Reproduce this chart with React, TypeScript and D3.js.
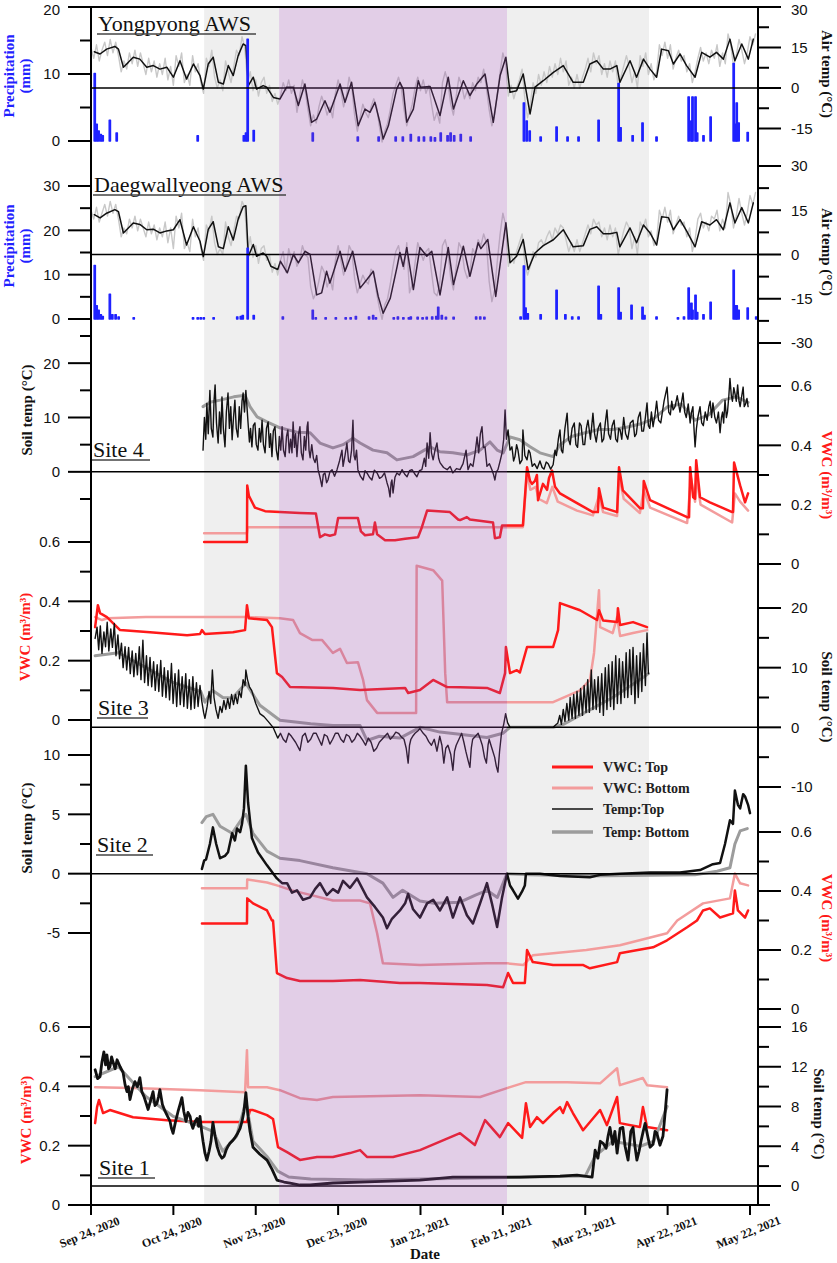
import * as d3 from "d3";

type Pt = [number, number];

// time is kept as days after Sep 24, 2020
const T0 = Date.UTC(2020, 8, 24);
const DAY = 864e5;
const tickDays = [0, 30, 60, 90, 120, 150, 180, 210, 240];
const greyPeriods: Pt[] = [[41.2, 68.5], [151.5, 203.2]];
const purplePeriod: Pt = [68.5, 151.5];

// ---- Yongpyong AWS ----
const yongDaily = [
  15, 11, 16, 10, 14, 17, 12, 18, 13, 17,
  12, 6, 10, 7, 13, 9, 14, 8, 13, 9,
  5, 11, 6, 10, 4, 9, 5, 11, 3, 8,
  1, 12, 8, 13, 2, 5, 1, 12, 6, 9,
  2, -2, 11, 8, 14, 4, 0, 3, -1, 10,
  6, 2, 8, 14, 12, 19, 15, 2, 6, -1,
  3, -3, 2, 4, -2, 1, -5, -2, -6, -3,
  2, -1, 3, -2, 1, -9, -3, 3, -1, -8,
  -14, -10, -13, -7, -3, -6, -10, -7, -11, -2,
  3, -1, -7, -3, 4, 0, -10, -16, -11, -6,
  -9, -11, -7, -4, -7, -14, -20, -16, -13, -8,
  -2, 1, 4, 0, -8, -14, -10, -6, 0, 4,
  -1, 3, -2, 1, -6, -12, -9, -13, 2, 6,
  2, -6, -10, -3, 4, 1, -4, -1, -4, 2,
  -1, 4, 2, 7, 0, -8, -14, -10, -2, 6,
  13, 9, -3, 1, -4, 0, 3, 7, -4, -11,
  -6, 2, -2, 5, 1, 6, 2, 8, 4, 9,
  5, 11, 6, 10, 1, 4, 0, 5, 0, 4,
  7, 11, 6, 13, 9, 12, 5, 9, 4, 10,
  6, 10, 0, 4, 8, 12, 8, 2, 6, 0,
  12, 8, 13, 5, 9, 3, 6, 16, 12, 17,
  11, 16, 7, 11, 14, 10, 12, 6, 9, 2,
  6, 11, 15, 10, 13, 9, 14, 11, 16, 8,
  13, 9, 20, 16, 8, 12, 18, 14, 9, 13,
  19, 16, 20,
];
const yongAvg: Pt[] = [
  [1.2, 13.4], [3.3, 12.6], [5.7, 14.4], [8.7, 15.4], [10, 14.4], [11.8, 7.7], [13.6, 9.5], [15.4, 11.4],
  [17.8, 10.7], [20.3, 7.7], [22.7, 8.3], [25.1, 7.0], [27.6, 7.7], [30, 4.0], [32.4, 10.1], [34.8, 3.3],
  [37.3, 8.9], [39.7, 4.6], [40.9, -0.4], [42.7, 8.9], [44.5, 11.4], [46.4, 2.1], [48.2, 1.5], [50, 8.3],
  [51.8, 4.6], [53.6, 12.0], [55.4, 16.3], [56.4, 15.7], [57.3, 0.9], [59.1, 4.0], [60.3, -0.4], [62.7, 0.9],
  [64, 0.3], [66.4, -3.5], [68.8, -4.1], [71.2, 0.3], [73.7, 0.3], [75.5, -6.5], [77.9, 1.5], [80.3, -12.7],
  [82.2, -11.5], [85.2, -4.7], [87, -9.0], [90.7, 1.5], [92.5, -5.3], [94.9, 2.1], [97.3, -14], [99.8, -7.8],
  [101.6, -9.0], [103.4, -5.3], [105.2, -12.7], [106.4, -18.9], [108.3, -14], [111.3, -0.4], [112.5, 2.1],
  [113.7, -0.4], [115, -12.7], [117.4, -7.8], [119.2, 2.7], [120, 0.3], [123.5, 0.6], [127.1, -10.2],
  [130.1, 4.0], [132, -7.8], [135.6, 2.7], [138, -2.8], [140.5, 1.5], [143.5, 5.2], [146.5, -12.7], [149, 4.6],
  [151.1, 11.4], [152.6, -1.6], [155, -1.0], [157.4, 5.2], [159.9, -9.6], [161.7, 0.3], [164.7, 2.7],
  [168.4, 5.8], [172, 8.3], [175.6, 2.1], [179.3, 2.1], [181.7, 8.9], [184.2, 10.1], [186.6, 7.0], [189, 7.0],
  [191.5, 8.3], [192.6, 2.1], [196.3, 10.1], [198.7, 4.0], [201.2, 10.7], [203.6, 7.0], [206, 4.0],
  [207.8, 14.4], [210.3, 13.8], [212.1, 8.9], [214.5, 12.6], [216.9, 8.3], [220, 4.0], [222.4, 13.2],
  [225.4, 11.4], [227.8, 13.2], [230.3, 10.7], [232.7, 18.1], [234.5, 10.1], [237, 16.3], [239.4, 10.7], [241.2, 18.1],
];
const yongPrecip: Pt[] = [
  [1.1, 10.1], [1.8, 2.5], [2.5, 1.5], [3.3, 1], [4, 0.8], [6.6, 3.1], [9.1, 1.2], [38.6, 0.8], [55.4, 0.8],
  [56.2, 1.2], [56.8, 15.2], [59, 1.6], [80.5, 1.2], [96.9, 0.6], [104.5, 0.6], [110.7, 0.6], [113.3, 0.6],
  [116.2, 1], [119.1, 0.6], [121, 0.6], [123.5, 0.6], [125, 0.5], [127.1, 1.2], [129.6, 0.8], [130.7, 1.2],
  [132, 0.8], [134.4, 1], [138, 0.6], [157.4, 5.7], [158.4, 3], [159.5, 1.5], [163.5, 0.6], [169.3, 2.1],
  [173.3, 0.6], [177.3, 0.6], [184.6, 3.1], [191.9, 8.6], [192.6, 2], [197, 0.8], [200.6, 2.7], [205.7, 0.6],
  [217.4, 6.6], [218.4, 3], [218.8, 6.6], [219.9, 6.6], [220.5, 1.2], [222.8, 0.8], [225.4, 3.6], [233.8, 11.6],
  [234.5, 2.5], [234.9, 5.7], [235.6, 2.7], [238.9, 1.3],
];

// ---- Daegwallyeong AWS ----
const daegDaily = [
  15, 12, 16, 11, 14, 17, 13, 18, 14, 17,
  12, 6, 9, 7, 12, 9, 13, 8, 12, 9,
  6, 11, 7, 10, 5, 9, 6, 11, 4, 9,
  2, 13, 9, 14, 2, 4, 1, 12, 6, 9,
  2, -2, 10, 8, 13, 4, 0, 2, 0, 11,
  6, 3, 8, 13, 12, 18, 16, 1, 6, -1,
  3, -3, 2, 3, -2, 0, -6, -3, -7, -2,
  1, -6, 2, -2, 1, -4, -2, 3, 0, -1,
  -11, -15, -13, -9, -4, -6, -11, -8, -12, -2,
  3, -2, -7, -4, 3, 1, -8, -13, -10, -7,
  -9, -10, -5, -6, -13, -18, -22, -17, -15, -10,
  -4, 1, 3, -2, -5, 4, -13, -10, -3, 4,
  1, -2, 1, 2, -6, -13, -14, -10, 3, 5,
  1, -8, -12, -4, 4, 2, -5, -8, -6, 2,
  0, 5, 3, 7, 4, -9, -16, -12, -2, 7,
  14, 10, -4, 0, -3, 1, 4, 7, -3, -7,
  -4, 1, -1, 4, 5, 3, 6, 8, 5, 9,
  7, 10, 9, 5, 1, 4, 1, 5, 1, 4,
  7, 10, 7, 12, 10, 11, 6, 9, 5, 10,
  6, 9, 0, 4, 8, 11, 9, 2, 6, 0,
  11, 9, 12, 6, 8, 3, 5, 15, 12, 16,
  11, 15, 7, 10, 13, 10, 11, 6, 9, 1,
  5, 12, 14, 9, 11, 8, 13, 12, 15, 8,
  12, 9, 21, 17, 9, 13, 19, 14, 10, 14,
  20, 17, 21,
];
const daegAvg: Pt[] = [
  [1.2, 13.5], [3.3, 12.4], [5.7, 14], [8.7, 15.2], [10, 14.5], [11.8, 7.3], [13.6, 9], [15.4, 10.7],
  [17.8, 10.2], [20.3, 8.4], [22.7, 8.6], [25.1, 7.3], [27.6, 8], [30, 8.4], [32.4, 11.8], [34.8, 3.2],
  [37.3, 9.4], [39.7, 4.5], [40.9, -0.7], [42.7, 8.5], [44.5, 11.1], [46.4, 2.6], [48.2, 2], [50, 9.4],
  [51.8, 4.9], [53.6, 12], [55.4, 16.2], [56.4, 16.5], [57.3, -0.6], [59.1, 3.4], [60.3, -0.6], [62.7, 0.5],
  [64, -0.6], [65.5, -4], [68, -5.1], [69, -2.3], [71.5, -6.2], [73.7, 0], [75.5, -2.8], [78, 1.1], [79.8, 0],
  [82.2, -13.7], [84, -13], [85.8, -5.7], [87, -9.7], [90.7, 1.1], [92.5, -5.7], [95.3, 1.1], [98, -11.4],
  [100.5, -8.5], [102.8, -5.7], [104.6, -14.2], [106.4, -19.9], [109, -14.8], [111.5, -4], [112.5, 0.7],
  [113.7, -4], [115, 2.4], [117.4, -11.9], [119.8, 2.4], [122.3, -0.6], [124.1, 1.1], [127.1, -13.7],
  [130.1, 2.4], [132, -10.2], [135.6, 2.8], [138, -7.4], [141, 4], [142, 2], [144.5, 5.1], [147.4, -14.2],
  [151.1, 10.8], [152.6, -2.8], [155, -0.6], [157.4, 5.1], [159.2, -5.1], [161.7, 0.5], [164.7, 3],
  [168.4, 5], [172, 8.4], [175.6, 2.6], [179.3, 3], [181.7, 8.5], [184.2, 9.4], [186.6, 7], [189, 7],
  [191.5, 7.5], [192.6, 2.6], [196.3, 9], [198.7, 4], [201.2, 10], [203.6, 7.3], [206, 3.2], [207.8, 12.8],
  [210.3, 12.5], [212.1, 8.4], [214.5, 11.8], [216.9, 8], [220, 2.6], [222.4, 11.1], [225.4, 10],
  [227.8, 11.8], [230.3, 8.4], [232.7, 17.5], [234.5, 10.7], [237, 15.9], [239.4, 10.7], [241.2, 17.5],
];
const daegPrecip: Pt[] = [
  [1.1, 12.1], [1.8, 3], [2.5, 2], [3.3, 1], [4, 0.6], [6.6, 5.6], [7.5, 1], [8.7, 1], [9.8, 0.5], [15.3, 0.3],
  [36.9, 0.3], [38.6, 0.3], [39.7, 0.3], [40.8, 0.3], [44.4, 0.3], [53, 0.5], [54.3, 0.6], [55, 0.8],
  [56.8, 16], [59, 0.8], [69.6, 0.5], [80.5, 2], [81.6, 0.3], [85.2, 0.3], [88.9, 0.3], [92.5, 0.3],
  [94.3, 0.3], [96.2, 0.6], [101, 0.5], [102.5, 0.8], [103.5, 0.3], [110, 0.3], [111.5, 0.5], [113.5, 0.3],
  [115.5, 0.3], [116.2, 0.5], [118.7, 0.4], [120.5, 0.3], [122, 0.4], [124, 0.5], [125.5, 0.6], [126.2, 2.7],
  [127.5, 0.8], [129, 0.4], [131.8, 0.4], [140, 0.5], [141.5, 0.5], [143, 0.4], [156.2, 0.5], [157.4, 12],
  [158, 2.5], [158.8, 1.2], [163.5, 1], [169.3, 6.5], [172.5, 1], [175, 0.5], [177.3, 0.5], [184.6, 7.4],
  [185.4, 1], [191.9, 7], [192.6, 1.5], [196.6, 3.1], [200.6, 2.7], [201.3, 0.8], [205.7, 0.5], [213.5, 0.3],
  [215.7, 0.5], [217.4, 7], [218.4, 3.6], [218.8, 2], [219.9, 5.4], [220.5, 1.5], [222.8, 1], [225.4, 3.8],
  [233.8, 11], [234.5, 3], [234.9, 3], [235.6, 2], [238.9, 2.5], [242, 0.5],
];

// ---- Site 4 ----
const s4TempTop: Pt[] = [
  [40.8, 4], [41.3, 10], [41.8, 6], [42.2, 12.6], [42.7, 7], [43.3, 15], [43.8, 8], [44.4, 6.4], [44.8, 13],
  [45.2, 16], [45.7, 9], [46.3, 5.3], [46.8, 11], [47.3, 7], [47.7, 13.8], [48.2, 8], [48.8, 4.6], [49.3, 11],
  [49.9, 14.5], [50.4, 8], [50.9, 12], [51.4, 5.9], [51.9, 10], [52.4, 13.2], [52.9, 8], [53.5, 6.4], [54, 12],
  [54.5, 8], [55, 13], [55.4, 14.5], [55.9, 11], [56.4, 15], [56.8, 12], [57.2, 9], [57.7, 5.5], [58.1, 8],
  [58.6, 4.6], [59.1, 8.5], [59.7, 9], [60.2, 5], [60.8, 4], [61.3, 8], [61.8, 5.5], [62.3, 9.5], [62.8, 5],
  [63.4, 3.5], [63.9, 8], [64.5, 9.2], [65, 4.5], [65.4, 7], [65.9, 2.8], [66.4, 7.5], [67, 8.3], [67.5, 4],
  [68.1, 2.2], [68.6, 6.5], [69.1, 4], [69.6, 8.3], [70.1, 4], [70.7, 2.8], [71.2, 6.5], [71.7, 7.7],
  [72.2, 3.5], [72.7, 6], [73.2, 3.5], [73.6, 9.2], [74.1, 4.5], [74.5, 7], [75, 2.8], [75.6, 7], [76.1, 8.3],
  [76.6, 3.5], [77.2, 2.2], [77.7, 6.5], [78.2, 4], [78.7, 8.3], [79, 9.2], [79.4, 4], [79.8, 2.6], [80.4, 5],
  [81, 2.5], [81.6, 1.7], [82.2, 3], [82.7, 0.4], [83.4, -1], [84.1, -2.7], [84.6, -0.5], [85.2, -0.2],
  [85.8, -2], [86.3, -1.5], [87, 0], [87.8, 0.4], [88.7, -0.8], [89.6, 0.4], [90.5, 2], [91.4, 4], [91.8, 1],
  [92.5, 3], [93.2, 5.3], [93.8, 2], [94.3, 1.7], [94.9, 4], [95.4, 9.5], [95.8, 3], [96.2, 2.2], [96.7, 4],
  [97.2, 0.4], [98.1, -0.8], [99.1, -1.5], [99.8, 0.2], [100.5, -0.2], [101.4, -1], [102.3, -1.5],
  [103.2, 0.3], [104.2, -0.2], [105.1, -1.2], [106, -0.9], [106.9, -0.2], [107.8, -2], [108.4, -3],
  [108.9, -4.6], [109.3, -2], [109.6, -1.5], [110, -3.9], [110.7, -1], [111.4, -0.2], [112.3, -0.6],
  [113.3, 0.4], [114.2, -0.4], [115.1, -0.9], [116, 0.2], [116.9, 0.4], [117.8, -0.3], [118.7, -0.9],
  [119.6, 0.2], [120.5, 0.4], [121.4, 2.5], [121.9, 1], [122.4, 5.3], [123, 2.5], [123.5, 7.2], [124, 3.5],
  [124.6, 2.2], [125.3, 4], [126, 5.3], [126.6, 2.5], [127.1, 1.7], [128.4, 0.8], [129.7, 0.4], [130.8, 1],
  [131.8, -0.2], [133.1, 0.6], [134.4, 0.4], [135.5, 1.5], [136.6, 4], [137.3, 0.4], [138.2, 1.5], [139.1, 1],
  [139.9, 3.5], [140.6, 6.4], [141.2, 3.5], [141.8, 7], [142.4, 8.3], [142.9, 4.5], [143.5, 4.6],
  [144.2, 1], [145.1, 1.5], [146, 0.4], [146.6, -0.5], [147.1, -1.5], [147.6, 0], [148.2, 0.4], [149, 2],
  [149.7, 3.5], [150.3, 6], [150.8, 11.4], [151.3, 6], [151.9, 7.7], [152.6, 4], [153.3, 4.6], [153.9, 2],
  [154.4, 2.8], [155, 5], [155.5, 4], [156.2, 1.5], [157, 2.2], [157.3, 7.7], [158, 3], [158.8, 2.2],
  [159.4, 4], [159.9, 3.5], [160.7, 1], [161.5, 1.5], [162.5, 0.6], [163.5, 2], [164.3, 0.8], [165, 0.5],
  [165.8, 1.8], [166.5, 1.5], [167.4, 0.5], [168.3, 1.3], [169, 4], [169.5, 3], [170.2, 6], [170.8, 7.7],
  [171.3, 4], [171.8, 3.5], [172.6, 8], [173.4, 10.8], [173.9, 6], [174.5, 5], [175.2, 8], [176, 9],
  [176.6, 5], [177.2, 4.5], [177.9, 9], [178.5, 8.5], [179.2, 5], [179.8, 5], [180.4, 8], [181, 9.5],
  [181.9, 6], [182.8, 10.8], [183.4, 7], [184, 5.5], [184.7, 8], [185.5, 9], [186.1, 5.5], [186.7, 6],
  [187.3, 9], [187.9, 11.4], [188.5, 7], [189.2, 6], [189.8, 8.5], [190.5, 9.5], [191.1, 6], [191.7, 5.5],
  [192.2, 8], [192.7, 7.7], [193.3, 6], [194, 10], [194.7, 7], [195.5, 6], [196.4, 9], [197.4, 9.5],
  [198, 6.5], [198.6, 7], [199.3, 10], [200, 11], [200.6, 7.5], [201.2, 7.5], [201.9, 10], [202.5, 12.7],
  [203, 8.5], [203.5, 8], [204.1, 11], [204.7, 8.3], [205.4, 10.5], [206, 13], [206.7, 9.5], [207.5, 9],
  [208.7, 13], [209.8, 15.6], [210.4, 11], [211, 10.5], [211.5, 13], [212, 11.4], [212.7, 12], [213.5, 14],
  [214.5, 11], [215.6, 14.5], [216.2, 11], [216.8, 10], [217.5, 12.5], [218.2, 9], [218.7, 11], [219.2, 12],
  [219.6, 8], [220, 4.6], [220.5, 8], [221, 10], [221.8, 12], [222.4, 9], [223, 8.5], [223.7, 11],
  [224.4, 9.5], [225, 12], [225.5, 13], [226, 10], [226.5, 12.7], [227.2, 10], [227.8, 9], [228.5, 11],
  [229.1, 7.2], [229.6, 10], [230, 11], [230.4, 9], [230.9, 13.2], [231.4, 10], [231.8, 11], [232.3, 14],
  [232.7, 17.2], [233.2, 14], [233.6, 13], [234.1, 15.5], [234.5, 14.5], [235, 13], [235.5, 16], [236, 13],
  [236.4, 12], [237, 14], [237.5, 15.6], [237.9, 12], [238.4, 12.5], [238.9, 13.5], [239.3, 12],
];
const s4TempBot: Pt[] = [
  [40.8, 12], [43.3, 12.8], [47, 13.2], [52, 13.8], [56.1, 14.1], [57.9, 12], [60.5, 10.1], [64.1, 9.2],
  [68.8, 8.1], [75, 7.3], [79.8, 7.2], [83.4, 5.3], [88.1, 4.4], [91.8, 5], [95.4, 6.2], [98, 5.3], [102.7, 4],
  [107.8, 3.5], [111.4, 2.2], [117.3, 2.8], [123.5, 4.6], [127.1, 3.7], [131.8, 3.5], [136.9, 3.1], [141.7, 4],
  [145.3, 5.5], [147.9, 4], [150.1, 3.5], [152.6, 6.4], [156.2, 5.9], [159.9, 4.6], [163.5, 3.5], [168.3, 2.8],
  [170.8, 5], [175, 6.5], [180, 7.2], [185, 7.8], [190, 7.8], [195, 8.2], [200, 8.8], [205, 9.8], [210, 12],
  [215, 12.5], [220, 9.5], [225, 10.5], [230, 13.2], [235, 13.8], [239.3, 12.8],
];
const s4VwcTop: Pt[] = [
  [41.2, 0.074], [56.8, 0.074], [56.9, 0.265], [57.5, 0.23], [59.7, 0.19], [63.4, 0.178], [68.8, 0.175],
  [76.1, 0.172], [81.9, 0.17], [83.4, 0.09], [85.2, 0.1], [87, 0.095], [88.9, 0.1], [90, 0.155], [97.2, 0.155],
  [98.3, 0.11], [99.8, 0.097], [102.7, 0.1], [103.4, 0.14], [104.2, 0.1], [107.1, 0.08], [110.7, 0.08],
  [114.4, 0.085], [119.1, 0.09], [120.5, 0.124], [122.4, 0.18], [130.7, 0.175], [133.7, 0.15], [134.4, 0.148],
  [136.9, 0.158], [138, 0.15], [146.4, 0.14], [147.1, 0.087], [148.9, 0.09], [149.7, 0.13], [157.3, 0.13],
  [158.8, 0.326], [159.9, 0.28], [160.6, 0.27], [161.7, 0.28], [162.4, 0.3], [162.8, 0.215], [164.6, 0.27],
  [166.1, 0.25], [166.8, 0.29], [167.9, 0.315], [169, 0.26], [170.8, 0.238], [177, 0.205], [182.8, 0.175],
  [184.6, 0.175], [185, 0.255], [186.5, 0.19], [191.6, 0.175], [192.3, 0.326], [193.7, 0.248], [199.9, 0.188],
  [201, 0.188], [201.3, 0.28], [203.6, 0.215], [217.1, 0.158], [217.8, 0.158], [218.2, 0.326], [219.3, 0.225],
  [220, 0.22], [220.4, 0.35], [221.8, 0.225], [225.4, 0.208], [233.5, 0.175], [233.8, 0.175], [234.2, 0.342],
  [236.4, 0.265], [238.2, 0.208], [239.3, 0.238],
];
const s4VwcBot: Pt[] = [
  [41.2, 0.104], [56.8, 0.104], [57, 0.124], [80, 0.124], [100, 0.124], [120, 0.124], [157.3, 0.124],
  [158.8, 0.31], [160, 0.25], [162, 0.26], [163, 0.22], [166, 0.205], [168, 0.26], [170, 0.21], [177, 0.18],
  [182.8, 0.164], [185, 0.23], [186.5, 0.175], [191.6, 0.162], [192.3, 0.3], [194, 0.22], [199.9, 0.172],
  [201.3, 0.25], [203.6, 0.19], [217.1, 0.138], [218.5, 0.29], [220, 0.21], [220.4, 0.3], [222, 0.2],
  [233.5, 0.14], [234.5, 0.238], [236.4, 0.21], [239.3, 0.18],
];

// ---- Site 3 ----
const s3VwcTop: Pt[] = [
  [1.5, 0.313], [2.5, 0.387], [3.3, 0.36], [5.8, 0.347], [10.6, 0.303], [21.5, 0.296], [35, 0.286],
  [39.7, 0.29], [40.4, 0.303], [41.5, 0.29], [51.7, 0.296], [56.1, 0.303], [56.8, 0.387], [57.5, 0.343],
  [64.1, 0.337], [65.9, 0.313], [67.7, 0.158], [69.6, 0.145], [72.5, 0.111], [88.1, 0.108], [98, 0.101],
  [114.4, 0.108], [115.5, 0.091], [119.8, 0.101], [124.6, 0.135], [129.7, 0.111], [134.4, 0.11],
  [144.2, 0.108], [148.9, 0.091], [150.8, 0.158], [151.1, 0.246], [152.6, 0.158], [155.1, 0.168],
  [156.2, 0.16], [158.8, 0.246], [168.3, 0.246], [170.1, 0.303], [170.8, 0.394], [178.1, 0.37],
  [184.3, 0.337], [185, 0.37], [186.5, 0.335], [191.6, 0.33], [191.9, 0.377], [192.7, 0.32], [197.4, 0.33],
  [202.5, 0.313],
];
const s3VwcBot: Pt[] = [
  [1.5, 0.347], [4, 0.337], [6, 0.343], [20, 0.347], [56.8, 0.347], [68.8, 0.343], [73.6, 0.337],
  [76.1, 0.293], [80.5, 0.27], [84.1, 0.27], [88.1, 0.226], [90.7, 0.24], [93.2, 0.192], [97.2, 0.195],
  [99.1, 0.135], [100.5, 0.067], [104.2, 0.024], [118.4, 0.024], [118.6, 0.52], [124.6, 0.505],
  [127.9, 0.47], [129, 0.158], [129.7, 0.06], [168.3, 0.06], [178.1, 0.1], [181.7, 0.135], [183.2, 0.226],
  [185, 0.437], [185.4, 0.313], [190, 0.293], [191.6, 0.347], [192.7, 0.283], [197.4, 0.293], [202.5, 0.303],
];
const s3TempTop: Pt[] = [
  [1.5, 14.9], [2.2, 16.8], [2.8, 13], [3.4, 17], [4, 12.4], [4.7, 16], [5.3, 13.5], [5.9, 17.6], [6.5, 12.8],
  [7.2, 16.5], [7.8, 13.4], [8.5, 17.4], [9.1, 12], [9.8, 15.5], [10.4, 11.5], [11.1, 14.1], [11.7, 10],
  [12.4, 13.5], [13, 9.6], [13.7, 13.4], [14.3, 9], [15, 12.8], [15.6, 8.5], [16.3, 12.4], [16.9, 8.8],
  [17.6, 13.5], [18.2, 8], [18.9, 14.6], [19.5, 7.5], [20.2, 12], [20.8, 7], [21.5, 11.7], [22.1, 6.8],
  [22.8, 11], [23.4, 6.2], [24.1, 10.5], [24.7, 6], [25.4, 11.2], [26, 5.2], [26.7, 10], [27.3, 5], [28, 9.5],
  [28.6, 4.6], [29.3, 10.7], [29.9, 4], [30.6, 9], [31.2, 3.5], [31.9, 9.6], [32.5, 3.8], [33.2, 8.5],
  [33.8, 3.5], [34.5, 9], [35.1, 3.2], [35.8, 8], [36.4, 3], [37.1, 8.5], [37.7, 3.2], [38.4, 7.5], [39, 3.5],
  [39.7, 7], [40.3, 4.5], [41, 2.5], [41.5, 1.5], [42.3, 3.5], [43, 6], [43.6, 4], [44.2, 9.6], [44.8, 5],
  [45.5, 3], [46.3, 1.5], [47, 3.5], [47.7, 2.5], [48.4, 4.5], [49.1, 3], [49.8, 4.8], [50.5, 3.2],
  [51.2, 5.5], [51.9, 3.8], [52.6, 5.5], [53.3, 4], [54, 6], [54.7, 5], [55.4, 8], [56.1, 7], [56.4, 9.6],
  [57, 8], [57.7, 6.8], [58.5, 6.2], [60, 4], [61.5, 2.3], [63, 1.8], [64.5, 1], [66.3, 0], [68, -1.8],
  [69, -1], [70, -2], [71, -2.5], [72, -1], [73, -1.5], [74.5, -2.5], [76.1, -3.9], [77, -1.5], [78, -1],
  [79, -2.5], [80, -2], [81, -1], [82, -1], [83, -2], [84, -3], [85, -1.2], [86, -1.5], [87, -2.8], [88, -2],
  [89, -1], [90, -1], [91, -2], [92, -2.5], [93, -1.2], [94, -1.5], [95, -2.5], [96, -2], [97, -1],
  [98, -1.5], [99, -2.2], [100, -3], [101, -1.8], [102, -2.5], [103, -4], [104, -3.5], [105, -2.5], [106, -2],
  [107, -1.5], [108, -1], [109, -2], [110, -1.5], [111, -0.8], [112, -1], [113, -1.6], [114, -2], [114.8, -3.5],
  [115.5, -6], [116, -3], [116.5, -2], [117.3, -1.4], [118, -1], [119, -0.6], [119.8, -0.2], [121, -1],
  [122, -1.5], [123, -2.4], [124, -3], [125, -2], [126, -4], [127, -1.5], [127.8, -3], [128.5, -6], [129.2, -3.5],
  [130, -3], [131, -4.5], [131.8, -7.2], [132.4, -4], [133, -3], [134, -2], [135, -1], [135.8, -2.5],
  [136.5, -4], [137.3, -5.5], [138, -6.7], [138.5, -3.5], [139, -2], [140, -1.5], [141, -1], [141.8, -2],
  [142.5, -3], [143.3, -5], [144, -6], [144.6, -3], [145, -2], [146, -3.5], [147, -5], [147.6, -6.5],
  [148.2, -7.5], [148.8, -4], [149.5, -1], [150.3, 0.5], [151, 2.3], [151.7, 0.8], [152.6, 0], [160, 0],
  [168.3, 0], [169.5, 0.5], [170, 0.7], [170.7, 2], [171.3, 0.5], [172, 3], [172.6, 1], [173.3, 4], [174, 1.2],
  [174.5, 5], [175.2, 1.5], [175.8, 5.5], [176.4, 1.5], [177, 6], [177.7, 2], [178.3, 6.5], [179, 2],
  [179.6, 7], [180.3, 2.5], [180.9, 8], [181.5, 2.5], [182.2, 9.6], [182.8, 3], [183.4, 8], [184, 3],
  [184.7, 8.5], [185.3, 2.5], [186, 9], [186.6, 2], [187.3, 10], [187.9, 3], [188.5, 10.5], [189.2, 3.5],
  [189.8, 11], [190.4, 3], [191.1, 12], [191.7, 4], [192.4, 11.5], [193, 4], [193.6, 11], [194.3, 5],
  [194.9, 12.5], [195.5, 5], [196.2, 13], [196.8, 5.5], [197.4, 13.4], [198.1, 4], [198.7, 12], [199.3, 5],
  [200, 12.5], [200.6, 6], [201.2, 14], [201.9, 7], [202.5, 15.8], [203, 9],
];
const s3TempBot: Pt[] = [
  [1.5, 12], [10, 12.5], [20, 10], [30, 7.5], [40, 6], [41.5, 4.2], [44.2, 6.2], [48, 5], [51.5, 4.9],
  [56.4, 7.4], [61.5, 3.7], [68.8, 1.2], [80, 0.6], [88.1, 0.3], [98, 0.3], [100.5, -2.2], [105, -1.5],
  [112.5, -1.8], [119.8, 0], [127.1, -0.8], [135, -1.2], [144.2, -1.7], [150, -1], [152.6, 0], [168.3, 0],
  [172, 0.5], [180, 2.5], [190, 5], [200, 8], [203, 9],
];

// ---- Site 2 ----
const s2TempTop: Pt[] = [
  [40.4, 0.4], [41.2, 1.1], [41.9, 1.2], [43.3, 2.5], [44.4, 3.9], [45.6, 2.5], [47, 1.3], [48.8, 1.5],
  [49.9, 1.8], [51.4, 3.4], [52.4, 2.8], [53.2, 3.8], [54.3, 3.5], [55, 4.2], [55.7, 5.5], [56.4, 9.1],
  [57.2, 6], [58.6, 3], [60.8, 1.8], [64.1, 0.7], [67.7, -0.4], [69.6, -0.8], [71.4, -0.8], [73.2, -1.6],
  [75, -1.4], [77.2, -2.2], [79.8, -2.0], [81.6, -1.3], [83.4, -0.8], [85.9, -1.8], [88.1, -1.3], [90, -1.6],
  [91.8, -0.6], [94.3, -1.2], [96.9, -0.4], [98.7, -1.2], [100.5, -2.0], [103.4, -2.8], [106.3, -3.7],
  [107.8, -4.6], [109.6, -3.8], [112.5, -3.1], [114.4, -2.5], [115.5, -1.7], [117.3, -3], [119.8, -3.7],
  [122.4, -2.5], [124.6, -2.2], [127.1, -3.1], [129.7, -2.0], [131.8, -3.7], [134.4, -2], [136.9, -3.5],
  [139.1, -4.2], [141.7, -2.5], [144.2, -0.8], [146, -2.5], [147.9, -4.5], [149.7, -2], [151.5, 0],
  [152.6, -1], [153.7, -1.4], [155.5, -2.1], [157, -1.5], [158, -1], [158.4, 0], [163.5, 0], [170.8, -0.2],
  [181.7, -0.3], [185.4, -0.1], [192.6, 0], [203.6, 0.1], [214.5, 0.1], [221.8, 0.3], [226.5, 0.8],
  [229.1, 0.9], [230.9, 2.5], [232.7, 4.5], [233.8, 4.2], [234.5, 7], [235.6, 5.8], [236.4, 5.5],
  [237.5, 6.7], [238.2, 6.5], [239.3, 5.8], [240, 5.1],
];
const s2TempBot: Pt[] = [
  [40.4, 4.3], [42, 4.8], [44.4, 5], [47, 4], [51.4, 3.4], [55.5, 4.8], [56.4, 5], [59, 3.4], [64.1, 1.9],
  [68.8, 1.3], [76.1, 1.1], [88.1, 0.5], [100.5, 0], [106.3, -0.8], [110, -2], [113.5, -1.4], [119.8, -2.3],
  [125, -2.5], [134.4, -2.4], [140, -1.8], [144.2, -1.4], [148, -2], [151.5, 0], [160, -0.1], [180, -0.2],
  [220, -0.1], [228, 0.2], [232.7, 0.5], [234.5, 2.5], [236.4, 3.6], [239, 3.8],
];
const s2VwcTop: Pt[] = [
  [40.4, 0.29], [56.8, 0.29], [56.9, 0.375], [59, 0.358], [64.1, 0.334], [65.9, 0.30], [66.3, 0.3],
  [67.7, 0.122], [71.4, 0.105], [76.1, 0.095], [88.1, 0.095], [98, 0.098], [112.5, 0.088], [119.8, 0.088],
  [144.2, 0.081], [150.1, 0.074], [151.9, 0.122], [153.7, 0.088], [158, 0.088], [158.8, 0.2], [160.9, 0.159],
  [168.3, 0.149], [179.3, 0.149], [181.7, 0.138], [191.6, 0.159], [192.6, 0.189], [204.7, 0.209],
  [209.8, 0.233], [217.1, 0.277], [220.7, 0.30], [222.9, 0.334], [225.4, 0.341], [229.1, 0.31],
  [233.8, 0.324], [234.5, 0.402], [235.6, 0.334], [238.2, 0.31], [239.3, 0.334],
];
const s2VwcBot: Pt[] = [
  [40.4, 0.409], [56.8, 0.409], [56.9, 0.439], [64.1, 0.429], [67.7, 0.419], [73.2, 0.402], [88.1, 0.368],
  [98, 0.368], [101.6, 0.358], [104.2, 0.257], [106.3, 0.155], [119.8, 0.149], [144.2, 0.155],
  [151.5, 0.155], [157.4, 0.149], [160.9, 0.182], [180.4, 0.2], [192.6, 0.216], [209.8, 0.257],
  [213.5, 0.30], [222.9, 0.358], [232.7, 0.375], [234.5, 0.459], [236.4, 0.426], [239.3, 0.419],
];

// ---- Site 1 ----
const s1VwcTop: Pt[] = [
  [1.5, 0.276], [2.2, 0.33], [2.9, 0.354], [4.4, 0.31], [6.9, 0.32], [15.3, 0.296], [27.7, 0.286],
  [39.7, 0.28], [56.8, 0.28], [57.9, 0.32], [59, 0.32], [64.1, 0.303], [66.3, 0.29], [68.1, 0.195],
  [71.4, 0.178], [76.1, 0.152], [82.3, 0.162], [88.1, 0.162], [94.3, 0.175], [98, 0.185], [100.5, 0.162],
  [110, 0.162], [119.8, 0.185], [134.4, 0.242], [139.8, 0.202], [143.5, 0.286], [148.9, 0.229],
  [151.9, 0.276], [157, 0.226], [158.4, 0.343], [159.9, 0.263], [162.4, 0.296], [164.6, 0.276],
  [168.3, 0.31], [170.8, 0.33], [171.9, 0.31], [173.4, 0.347], [175.5, 0.31], [179.2, 0.252], [185.4, 0.32],
  [187.9, 0.269], [191.6, 0.364], [192.6, 0.276], [199.9, 0.263], [201, 0.33], [202.5, 0.263], [209.8, 0.252],
];
const s1VwcBot: Pt[] = [
  [1.5, 0.397], [15.3, 0.394], [39.7, 0.387], [56.1, 0.38], [56.8, 0.522], [57.2, 0.397], [64.1, 0.397],
  [68.8, 0.387], [76.1, 0.36], [82.3, 0.354], [88.1, 0.364], [119.8, 0.37], [141.7, 0.364], [151.5, 0.394],
  [158.4, 0.414], [173.4, 0.414], [185.4, 0.41], [191.6, 0.461], [192.6, 0.404], [201, 0.428],
  [202.5, 0.404], [209.8, 0.397],
];
const s1TempTop: Pt[] = [
  [1.5, 11.7], [2.4, 10.8], [3.3, 11], [4, 12.5], [4.7, 13.5], [5.3, 12.2], [5.8, 13.2], [6.4, 11.8],
  [6.9, 12], [7.5, 13], [8, 12.5], [8.8, 11.8], [9.5, 12.7], [10.6, 12], [11.7, 11.4], [12.4, 10.2],
  [13.1, 9.5], [13.6, 10], [14.2, 8.7], [15.1, 9.8], [16, 10.5], [16.9, 10], [17.8, 10.9], [18.5, 9.5],
  [19.3, 9], [20, 8.4], [20.8, 7.7], [21.7, 8.6], [22.6, 9.5], [23.3, 8.1], [24, 8.3], [24.6, 9],
  [25.1, 9.7], [26, 8.2], [27, 7.5], [27.9, 7], [28.8, 6.5], [29.3, 5.8], [29.9, 5.3], [30.8, 6.5],
  [31.7, 7.5], [32.4, 8.2], [33.1, 8.9], [33.8, 7.5], [34.6, 6.5], [35.3, 7.4], [36.1, 7], [36.6, 6.2],
  [37.1, 5.8], [37.9, 6.5], [38.6, 6.8], [39.2, 6], [39.7, 7], [40.3, 5.5], [40.8, 4.5], [41.5, 3.3],
  [42.2, 2.6], [43, 3.5], [43.7, 4.5], [44.4, 6.4], [45.2, 5], [45.9, 4], [46.8, 3.2], [47.7, 2.8],
  [48.5, 3], [49.2, 3.6], [49.9, 4], [50.6, 4.3], [51.7, 4.6], [52.5, 4.9], [53.2, 5.2], [54.3, 5.8],
  [55, 6.5], [55.7, 7.5], [56.4, 9.4], [57.2, 7], [57.9, 5.5], [59, 3.9], [61.5, 3.2], [64.1, 2.6],
  [65.9, 1.7], [67.7, 0.6], [70.3, 0.4], [72.5, 0.3], [76.1, 0.1], [79.8, 0.1], [88.1, 0.3], [98, 0.4],
  [119.8, 0.6], [131.8, 0.9], [156.2, 0.9], [170.8, 1], [177, 1.1], [182.5, 0.9], [183.6, 3.6], [184.6, 2.8],
  [185.5, 4.5], [186.5, 4.3], [187.6, 3.8], [188.3, 5], [189, 5.9], [190, 4.2], [190.8, 5.5], [191.6, 3.3],
  [192.7, 5.8], [193.7, 5.9], [194.5, 4], [195.6, 2.6], [196.6, 5.5], [197.4, 5.9], [198.1, 4], [198.8, 2.6],
  [199.6, 3.5], [200.3, 4.5], [201.1, 5.5], [201.8, 6.3], [202.9, 4.8], [203.6, 3.9], [204.7, 4.2],
  [205.4, 5.5], [206.1, 5.3], [207.2, 4.1], [208.3, 5], [209.1, 7.4], [209.8, 9.7],
];
const s1TempBot: Pt[] = [
  [1.5, 11], [10, 12], [20, 9], [30, 7], [40, 6], [44.4, 5.5], [48, 3.5], [53, 5], [56.4, 8.5], [59, 4.5],
  [64, 3], [68, 1.5], [72, 0.9], [80, 0.7], [100, 0.6], [120, 0.7], [160, 0.9], [180, 1], [183.6, 3],
  [190, 4.5], [200, 4], [205, 4.5], [209.8, 8],
];

// ---- axis ticks ----
const yongPMajor = [0, 10, 20], yongPMinor = [5, 15];
const yongTMajor = [-15, 0, 15, 30], yongTMinor = [-7.5, 7.5, 22.5];
const daegPMajor = [0, 10, 20, 30], daegPMinor = [5, 15, 25];
const daegTMajor = [-30, -15, 0, 15, 30], daegTMinor = [-22.5, -7.5, 7.5, 22.5];
const s4TMajor = [0, 10, 20], s4TMinor = [-5, 5, 15, 25];
const vwcMajor = [0, 0.2, 0.4, 0.6], vwcMinor = [0.1, 0.3, 0.5];
const s3TMajor = [-10, 0, 10, 20], s3TMinor = [-5, 5, 15];
const s2TMajor = [-5, 0, 5, 10], s2TMinor = [-2.5, 2.5, 7.5];
const s1TMajor = [0, 4, 8, 12, 16], s1TMinor = [2, 6, 10, 14];

const legendNames = ["VWC: Top", "VWC: Bottom", "Temp:Top", "Temp: Bottom"];

const SANS = "'Liberation Sans', Arial, sans-serif";
const SERIF = "'Liberation Serif', 'Times New Roman', serif";
const RED = "#ff1a1a";
const PINK = "#f39c9c";
const GREY = "#9c9c9c";
const BLUE = "#1f22ff";
const legendColors = [RED, PINK, "#111", GREY];
const legendWidths = [3, 3, 1.5, 3.5];

const L = 91, R = 758, TOP = 7, BOT = 1205;

const x = d3.scaleUtc([new Date(T0), new Date(T0 + 240 * DAY)], [91, 750]);
const xd = (d: number) => x(new Date(T0 + d * DAY));
const fmt = d3.utcFormat("%b %d, %Y");

const yYongP = d3.scaleLinear([0, 20], [141, 7]);
const yYongT = d3.scaleLinear([-15, 30], [128.5, 7]);
const yDaegP = d3.scaleLinear([0, 30], [319, 186]);
const yDaegT = d3.scaleLinear([-30, 30], [343, 166]);
const yS4T = d3.scaleLinear([-5, 25], [499, 336]);
const yS4V = d3.scaleLinear([0, 0.6], [564, 386]);
const yS3V = d3.scaleLinear([0, 0.6], [720, 542]);
const yS3T = d3.scaleLinear([-10, 20], [787, 608]);
const yS2T = d3.scaleLinear([-5, 10], [933, 755]);
const yS2V = d3.scaleLinear([0, 0.6], [1009, 832]);
const yS1V = d3.scaleLinear([0, 0.6], [1205, 1027]);
const yS1T = d3.scaleLinear([0, 16], [1186, 1027]);

type Scale = d3.ScaleLinear<number, number>;

function Line({ data, y, color, w }: { data: Pt[]; y: Scale; color: string; w: number }) {
  const gen = d3.line<Pt>().x((d) => xd(d[0])).y((d) => y(d[1]));
  return (
    <path d={gen(data) ?? ""} fill="none" stroke={color} strokeWidth={w}
      strokeLinejoin="round" strokeLinecap="round" />
  );
}

function Bars({ data, y }: { data: Pt[]; y: Scale }) {
  return (
    <g fill={BLUE} stroke={BLUE} strokeWidth={1.3} strokeLinejoin="round">
      {data.map(([d, v], i) => (
        <rect key={i} x={xd(d)} y={y(v)} width={Math.max(xd(d + 1) - xd(d) - 1.3, 0.8)} height={y(0) - y(v)} />
      ))}
    </g>
  );
}

function Ticks({ s, major, minor, side }: { s: Scale; major: number[]; minor: number[]; side: "l" | "r" }) {
  const x0 = side === "l" ? L : R;
  const dir = side === "l" ? -1 : 1;
  return (
    <g stroke="#000" strokeWidth={2}>
      {major.map((v) => (
        <line key={"M" + v} x1={x0} x2={x0 + dir * 23} y1={s(v)} y2={s(v)} />
      ))}
      {minor.map((v) => (
        <line key={"m" + v} x1={x0} x2={x0 + dir * 11} y1={s(v)} y2={s(v)} />
      ))}
      {major.map((v) => (
        <text key={"t" + v} x={side === "l" ? 60 : 791} y={Math.max(s(v), 9.5)} dy="0.36em" stroke="none" fill="#111"
          textAnchor={side === "l" ? "end" : "start"} fontFamily={SANS} fontSize={15}>
          {v}
        </text>
      ))}
    </g>
  );
}

function VTitle({ x0, y0, text, color, rot, size = 15 }: { x0: number; y0: number; text: string; color: string; rot: number; size?: number }) {
  return (
    <text transform={`translate(${x0},${y0}) rotate(${rot})`} textAnchor="middle" fontFamily={SERIF}
      fontWeight="bold" fontSize={size} fill={color}>
      {text}
    </text>
  );
}

function Label({ x0, y0, text, ulx }: { x0: number; y0: number; text: string; ulx: number }) {
  return (
    <g>
      <text x={x0} y={y0} fontFamily={SERIF} fontSize={22} fill="#111">{text}</text>
      <line x1={x0 - 1} x2={ulx} y1={y0 + 3} y2={y0 + 3} stroke="#444" strokeWidth={1.3} />
    </g>
  );
}

export default function App() {
  const daily = (arr: number[]): Pt[] => arr.map((v, i) => [i, v]);
  const zeroLines = [yYongT(0), yDaegT(0), yS4T(0), yS3T(0), yS2T(0), yS1T(0)];
  return (
    <svg width={837} height={1263} style={{ position: "absolute", left: 0, top: 0, background: "#fff" }}>
      {/* shaded periods (grey behind) */}
      {greyPeriods.map(([a, b], i) => (
        <rect key={i} x={xd(a)} y={TOP} width={xd(b) - xd(a)} height={BOT - TOP} fill="#efefef" />
      ))}

      {/* air temperature + precipitation */}
      <Line data={daily(yongDaily)} y={yYongT} color="#c8c8c8" w={1.4} />
      <Line data={yongAvg} y={yYongT} color="#111" w={1.5} />
      <Bars data={yongPrecip} y={yYongP} />
      <Line data={daily(daegDaily)} y={yDaegT} color="#c8c8c8" w={1.4} />
      <Line data={daegAvg} y={yDaegT} color="#111" w={1.5} />
      <Bars data={daegPrecip} y={yDaegP} />

      {/* site 4 */}
      <Line data={s4TempBot} y={yS4T} color={GREY} w={3} />
      <Line data={s4TempTop} y={yS4T} color="#111" w={1.4} />
      <Line data={s4VwcBot} y={yS4V} color={PINK} w={2.5} />
      <Line data={s4VwcTop} y={yS4V} color={RED} w={2.5} />

      {/* site 3 */}
      <Line data={s3VwcBot} y={yS3V} color={PINK} w={2.5} />
      <Line data={s3VwcTop} y={yS3V} color={RED} w={2.5} />
      <Line data={s3TempBot} y={yS3T} color={GREY} w={3} />
      <Line data={s3TempTop} y={yS3T} color="#111" w={1.4} />

      {/* site 2 */}
      <Line data={s2VwcBot} y={yS2V} color={PINK} w={2.5} />
      <Line data={s2VwcTop} y={yS2V} color={RED} w={2.5} />
      <Line data={s2TempBot} y={yS2T} color={GREY} w={3} />
      <Line data={s2TempTop} y={yS2T} color="#111" w={2.5} />

      {/* site 1 */}
      <Line data={s1VwcBot} y={yS1V} color={PINK} w={2.5} />
      <Line data={s1VwcTop} y={yS1V} color={RED} w={2.5} />
      <Line data={s1TempBot} y={yS1T} color={GREY} w={3} />
      <Line data={s1TempTop} y={yS1T} color="#111" w={2.8} />

      {/* zero lines */}
      {zeroLines.map((yy, i) => (
        <line key={i} x1={L} x2={R} y1={yy} y2={yy} stroke="#000" strokeWidth={1.5} />
      ))}

      {/* winter period, laid over the lines */}
      <rect x={xd(purplePeriod[0])} y={TOP} width={xd(purplePeriod[1]) - xd(purplePeriod[0])}
        height={BOT - TOP} fill="rgb(148,74,167)" fillOpacity={0.27} />

      {/* frame */}
      <g stroke="#000" strokeWidth={2}>
        <line x1={L} x2={L} y1={TOP} y2={BOT} />
        <line x1={R} x2={R} y1={TOP} y2={BOT} />
        <line x1={L} x2={R} y1={TOP} y2={TOP} />
        <line x1={L} x2={770} y1={BOT} y2={BOT} />
        {tickDays.map((d) => (
          <line key={d} x1={xd(d)} x2={xd(d)} y1={BOT} y2={BOT + 10} />
        ))}
      </g>
      {tickDays.map((d) => (
        <text key={d} transform={`translate(${xd(d)},${1236}) rotate(-22)`} textAnchor="middle"
          fontFamily={SERIF} fontWeight="bold" fontSize={12} fill="#111">
          {fmt(new Date(T0 + d * DAY))}
        </text>
      ))}
      <text x={425} y={1259} textAnchor="middle" fontFamily={SERIF} fontWeight="bold" fontSize={15} fill="#111">Date</text>

      <Ticks s={yYongP} major={yongPMajor} minor={yongPMinor} side="l" />
      <Ticks s={yDaegP} major={daegPMajor} minor={daegPMinor} side="l" />
      <Ticks s={yS4T} major={s4TMajor} minor={s4TMinor} side="l" />
      <Ticks s={yS3V} major={vwcMajor} minor={vwcMinor} side="l" />
      <Ticks s={yS2T} major={s2TMajor} minor={s2TMinor} side="l" />
      <Ticks s={yS1V} major={vwcMajor} minor={vwcMinor} side="l" />
      <Ticks s={yYongT} major={yongTMajor} minor={yongTMinor} side="r" />
      <Ticks s={yDaegT} major={daegTMajor} minor={daegTMinor} side="r" />
      <Ticks s={yS4V} major={vwcMajor} minor={vwcMinor} side="r" />
      <Ticks s={yS3T} major={s3TMajor} minor={s3TMinor} side="r" />
      <Ticks s={yS2V} major={vwcMajor} minor={vwcMinor} side="r" />
      <Ticks s={yS1T} major={s1TMajor} minor={s1TMinor} side="r" />

      {/* axis titles */}
      <VTitle x0={14} y0={76} text="Precipitation" color={BLUE} rot={-90} />
      <VTitle x0={30} y0={76} text="(mm)" color={BLUE} rot={-90} />
      <VTitle x0={14} y0={246} text="Precipitation" color={BLUE} rot={-90} />
      <VTitle x0={30} y0={246} text="(mm)" color={BLUE} rot={-90} />
      <VTitle x0={32} y0={410} text="Soil temp (°C)" color="#111" rot={-90} />
      <VTitle x0={30} y0={637} text="VWC (m³/m³)" color={RED} rot={-90} />
      <VTitle x0={32} y0={828} text="Soil temp (°C)" color="#111" rot={-90} />
      <VTitle x0={31} y0={1120} text="VWC (m³/m³)" color={RED} rot={-90} />
      <VTitle x0={822} y0={74} text="Air temp (°C)" color="#111" rot={90} />
      <VTitle x0={822} y0={252} text="Air temp (°C)" color="#111" rot={90} />
      <VTitle x0={822} y0={475} text="VWC (m³/m³)" color={RED} rot={90} />
      <VTitle x0={822} y0={697} text="Soil temp (°C)" color="#111" rot={90} />
      <VTitle x0={822} y0={918} text="VWC (m³/m³)" color={RED} rot={90} />
      <VTitle x0={814} y0={1114} text="Soil temp (°C)" color="#111" rot={90} />

      {/* panel labels */}
      <Label x0={98} y0={31} text="Yongpyong AWS" ulx={256} />
      <Label x0={94} y0={192} text="Daegwallyeong AWS" ulx={286} />
      <Label x0={93} y0={457} text="Site 4" ulx={150} />
      <Label x0={98} y0={715} text="Site 3" ulx={148} />
      <Label x0={97} y0={852} text="Site 2" ulx={153} />
      <Label x0={99} y0={1175} text="Site 1" ulx={155} />

      {/* legend */}
      {legendNames.map((n, i) => {
        const yy = [767, 788, 809, 832][i];
        return (
          <g key={n}>
            <line x1={552} x2={593} y1={yy} y2={yy} stroke={legendColors[i]} strokeWidth={legendWidths[i]} />
            <text x={603} y={yy + 5} fontFamily={SERIF} fontWeight="bold" fontSize={14} fill="#222">{n}</text>
          </g>
        );
      })}
    </svg>
  );
}
